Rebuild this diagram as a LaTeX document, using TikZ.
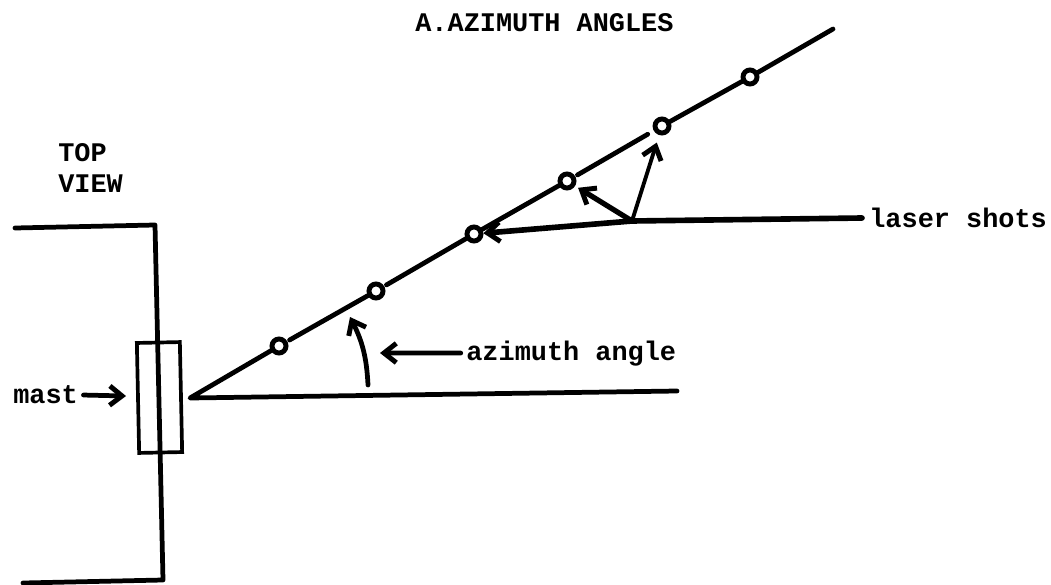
\documentclass[tikz,border=0pt]{standalone}
\usepackage{fontspec}
\setmonofont{Liberation Mono}
\usetikzlibrary{arrows.meta}
\tikzset{
  heavy/.style={line width=2.7pt,line cap=round,line join=round},
  shot/.style={heavy,-{Straight Barb[length=7pt,width=11pt,line width=2.8pt]}},
  hole/.style={circle,draw,line width=2.8pt,fill=white,inner sep=0pt,minimum size=.28cm},
  label/.style={font=\ttfamily\bfseries\fontsize{15.3}{18}\selectfont,inner sep=0pt,align=left}
}
\begin{document}
\begin{tikzpicture}[x=1cm,y=1cm]
\useasboundingbox (0,0) rectangle (21.02,11.68);
\node[label,anchor=base west] (title) at (8.30,11.04) {A.AZIMUTH ANGLES};
\node[label,anchor=north west] (view) at (1.16,8.82) {TOP\\VIEW};
\node[label,anchor=base west] (lasers) at (17.38,7.14) {laser shots};
\node[label,anchor=base west] (azim) at (9.32,4.48) {azimuth angle};
\node[label,anchor=base west] (mastlbl) at (.26,3.62) {mast};
% wall and mast
\coordinate (wallA) at (0.30,7.12);
\coordinate (wallB) at (3.10,7.18);
\coordinate (wallC) at (3.26,0.08);
\coordinate (wallD) at (0.46,0.02);
\node[draw,line width=2.1pt,rotate=1.2,minimum width=.86cm,minimum height=2.2cm,inner sep=0pt] (mast) at (3.19,3.73) {};
\draw[heavy] (wallA)--(wallB)--(wallC)--(wallD);
% sight lines
\coordinate (apex) at (3.80,3.72);
\coordinate (flat) at (13.54,3.86);
\coordinate (tip) at (16.66,11.10);
\node[hole] (h1) at (5.58,4.76) {};
\node[hole] (h2) at (7.52,5.86) {};
\node[hole] (h3) at (9.48,7.00) {};
\node[hole] (h4) at (11.34,8.06) {};
\node[hole] (h5) at (13.24,9.16) {};
\node[hole] (h6) at (15.00,10.14) {};
\draw[heavy] (flat)--(apex)--(h1);
\draw[heavy,shorten <=1.5pt] (h1)--(h2);
\draw[heavy,shorten <=1.5pt] (h2)--(h3);
\draw[heavy] (h3)--(h4);
\draw[heavy,shorten <=1.5pt,shorten >=4pt] (h4)--(h5);
\draw[heavy] (h5)--(h6)--(tip);
% laser
\coordinate (split) at (12.64,7.26);
\coordinate (lasertail) at (17.24,7.32);
\draw[heavy,line width=3.2pt] (lasertail)--(split);
\draw[shot,line width=3.2pt] (split)--(h3);
\draw[shot,line width=3pt,shorten >=2pt] (split)--(h4);
\draw[shot,line width=2.2pt,shorten >=4.5pt] (split)--(h5);
% pointers
\coordinate (sweep) at (7.36,3.98);
\coordinate (sweeptip) at (7.00,5.34);
\coordinate (azimtip) at (7.60,4.62);
\coordinate (masttip) at (2.52,3.76);
\draw[shot] (sweep) to[bend right=12] (sweeptip);
\draw[shot,shorten <=3pt] (azim)--(azimtip);
\draw[shot,shorten <=3pt] (mastlbl)--(masttip);
\end{tikzpicture}
\end{document}
